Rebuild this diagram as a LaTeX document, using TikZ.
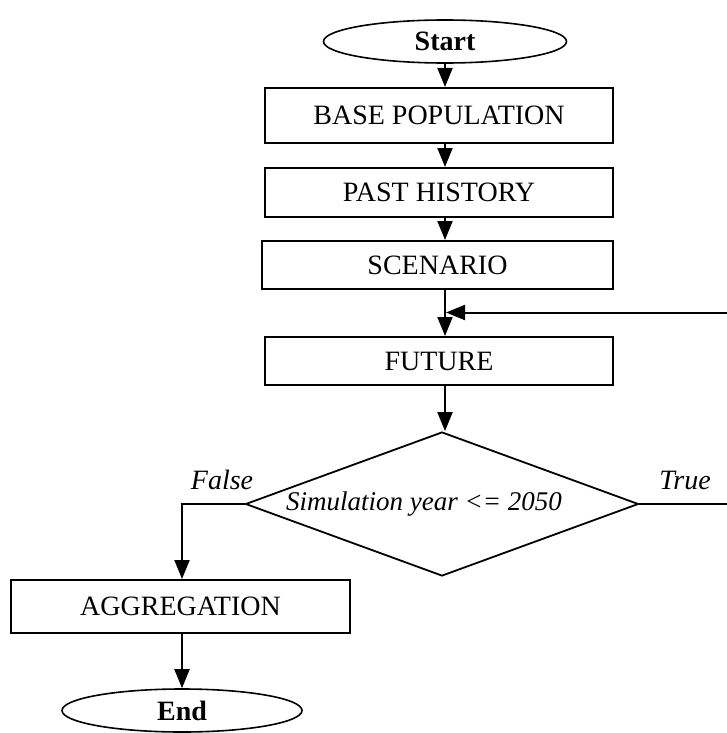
\documentclass[tikz,border=0pt]{standalone}
\usepackage{fontspec}
\setmainfont{Liberation Serif}
\usetikzlibrary{shapes.geometric,arrows.meta}
\begin{document}
\begin{tikzpicture}[x=1pt,y=-1pt,
  every node/.style={font=\fontsize{28}{32}\selectfont},
  box/.style={draw,line width=2pt,rectangle,inner sep=0pt},
  term/.style={draw,line width=1.6pt,ellipse,inner sep=0pt,minimum width=243pt,minimum height=43pt,font=\fontsize{28}{32}\selectfont\bfseries},
  dec/.style={draw,line width=1.8pt,diamond,inner sep=0pt,minimum width=393pt,minimum height=144pt},
  conn/.style={line width=2pt,-{Triangle[width=15pt,length=19pt]}},
  plain/.style={line width=2pt}]
\useasboundingbox (0,0) rectangle (726,733);
\coordinate (ax) at (445,0);
\coordinate (lx) at (182,0);
\node[term] (start) at (445,41.5) {Start};
\node[box,minimum width=348pt,minimum height=55pt] (base) at (439,115.5) {BASE POPULATION};
\node[box,minimum width=348pt,minimum height=49pt] (past) at (439,192.5) {PAST HISTORY};
\node[box,minimum width=351pt,minimum height=48pt] (scen) at (437.5,265) {SCENARIO};
\node[box,minimum width=348pt,minimum height=48pt] (fut) at (439,361) {FUTURE};
\node[dec] (cond) at (442,504) {};
\node[font=\fontsize{27}{30}\selectfont\itshape] (condtxt) at (424,504) {Simulation year <= 2050};
\node[font=\fontsize{28}{32}\selectfont\itshape] (false) at (222,480) {False};
\node[font=\fontsize{28}{32}\selectfont\itshape] (true) at (685,480) {True};
\node[box,minimum width=339pt,minimum height=53pt] (agg) at (180.5,606.5) {AGGREGATION};
\node[term,minimum width=240pt] (end) at (182,710.5) {End};
\coordinate (fr) at (728,504);
\coordinate (ft) at (728,312.5);
\coordinate (fj) at (445,312.5);
\draw[conn] (start.south -| ax) -- (base.north -| ax);
\draw[conn] (base.south -| ax) -- (past.north -| ax);
\draw[conn] (past.south -| ax) -- (scen.north -| ax);
\draw[conn] (scen.south -| ax) -- (fut.north -| ax);
\draw[conn] (fut.south -| ax) -- (cond.north -| ax);
\draw[plain] (cond.east) -- (fr) -- (ft);
\draw[conn] (ft) -- ([xshift=1pt]fj);
\draw[conn] (cond.west) -| (agg.north -| lx);
\draw[conn] (agg.south -| lx) -- (end.north);
\end{tikzpicture}
\end{document}
